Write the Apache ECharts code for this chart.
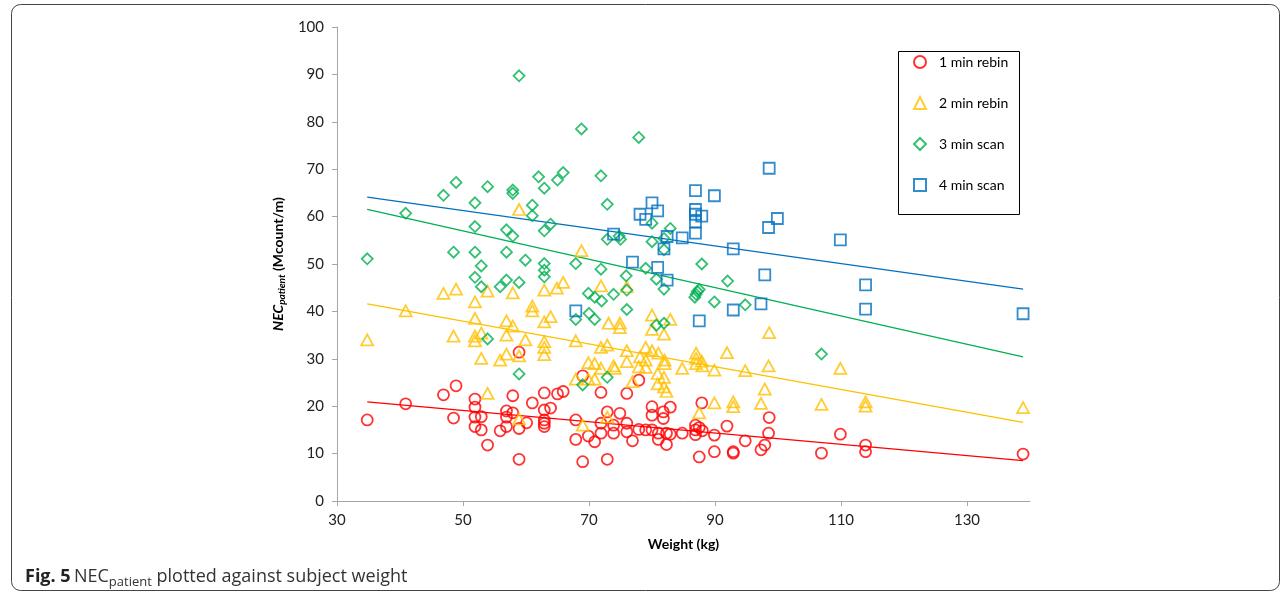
<!DOCTYPE html>
<html>
<head>
<meta charset="utf-8">
<title>NEC patient vs weight</title>
<script src="https://cdn.jsdelivr.net/npm/echarts@6/dist/echarts.min.js"></script>
<style>
  html, body { margin: 0; padding: 0; background: #fff; }
  #chart { width: 1287px; height: 602px; }
</style>
</head>
<body>
<div id="chart"></div>
<script>
// [weight (kg), NEC patient (Mcount/m)]
const rebin1 = [
  [34.8,17.1],[40.9,20.5],[46.9,22.4],[48.5,17.5],[48.9,24.3],[51.9,21.5],[51.9,19.8],[51.9,17.7],
  [51.9,15.7],[52.9,17.8],[52.9,15.0],[53.9,11.8],[55.9,14.8],[56.9,19.0],[56.9,17.7],[56.9,15.7],
  [57.9,22.2],[57.9,18.6],[58.9,31.4],[58.9,15.3],[58.9,8.8],[60.1,16.5],[61.0,20.7],
  [62.9,22.8],[65.0,22.6],[65.9,23.1],[71.9,22.9],[76.0,22.7],[69.0,26.4],[77.9,25.5],[87.9,20.7],
  [62.9,19.2],[63.9,19.6],[62.9,17.1],[62.9,16.4],[62.9,15.7],[67.9,17.1],[72.9,18.8],[74.9,18.5],
  [80.0,19.9],[81.8,18.8],[82.9,19.8],[80.0,18.1],[81.8,17.4],[67.9,13.0],[69.9,13.7],[70.9,12.5],
  [71.9,14.3],[73.9,14.3],[76.0,14.6],[76.9,12.7],[71.9,16.4],[73.9,16.0],[76.0,16.4],[77.9,15.1],
  [79.0,15.0],[80.0,15.0],[81.0,14.3],[81.0,13.0],[82.3,14.3],[82.3,11.9],[82.9,14.1],[84.8,14.3],
  [86.9,16.0],[86.9,15.0],[86.9,14.0],[87.5,15.5],[88.0,14.8],[89.9,13.9],[91.9,15.8],[94.8,12.7],
  [92.9,10.4],[92.9,10.1],[89.9,10.4],[87.5,9.3],[69.0,8.3],[72.9,8.8],
  [98.6,17.6],[98.5,14.3],[109.9,14.1],[97.9,11.8],[97.3,10.8],[106.9,10.1],[113.9,11.8],[113.9,10.4],
  [138.9,9.9]
];
const rebin2 = [
  [46.9,43.8],[48.9,44.7],[53.9,44.3],[57.9,43.9],[51.9,42.0],[61.0,41.1],[61.0,40.1],[40.9,40.1],
  [51.9,38.5],[56.9,38.0],[57.9,36.9],[34.8,34.0],[48.5,34.8],[51.9,34.8],[52.9,35.4],[51.9,33.8],
  [56.9,35.0],[59.9,34.0],[52.9,30.1],[55.9,29.7],[56.9,31.0],[58.9,30.6],[53.9,22.7],[58.9,17.3],
  [58.9,61.5],[68.8,52.8],[65.9,46.1],[64.9,44.9],[62.9,44.5],[71.9,45.4],[76.0,45.2],
  [63.9,38.9],[62.9,37.8],[73.1,37.5],[74.9,37.5],[74.9,36.6],[80.0,39.2],[82.9,38.3],[80.0,36.2],
  [81.9,35.2],[67.9,33.8],[62.9,33.6],[62.9,32.4],[62.9,30.9],[71.9,32.4],[72.9,32.9],[76.0,31.7],
  [79.0,32.4],[80.0,31.7],[81.0,31.2],[78.1,30.4],[79.0,29.7],[82.0,29.7],[82.0,29.0],[87.0,31.2],
  [87.0,30.1],[87.0,29.0],[87.9,29.5],[88.0,28.5],[91.9,31.3],[89.9,27.6],[84.8,28.0],[94.8,27.5],
  [69.9,29.2],[70.9,29.0],[71.9,28.0],[73.9,28.5],[74.1,28.0],[76.0,29.4],[77.9,28.3],[79.0,28.2],
  [67.9,25.7],[69.9,25.7],[70.9,25.7],[76.9,25.2],[80.9,26.9],[80.9,24.7],[81.9,26.1],[81.9,24.1],
  [82.3,23.1],[89.9,20.7],[92.9,20.9],[92.9,19.9],[87.5,18.6],[69.0,16.0],[72.9,17.7],
  [98.6,35.5],[98.5,28.5],[109.9,28.0],[97.9,23.6],[97.3,20.6],[106.9,20.4],[113.9,20.9],[113.9,20.0],
  [138.9,19.7]
];
const scan3 = [
  [58.9,89.7],[48.9,67.2],[46.9,64.5],[53.9,66.3],[57.9,65.6],[57.9,64.9],[51.9,62.9],[40.9,60.7],
  [61.0,62.4],[61.0,60.2],[51.9,57.9],[56.9,57.2],[57.9,55.9],[34.8,51.1],[48.5,52.5],[51.9,52.5],
  [56.9,52.5],[59.9,50.8],[52.9,49.6],[51.9,47.2],[52.9,45.2],[55.9,45.2],[56.9,46.6],[58.9,46.1],
  [53.9,34.2],[58.9,26.8],
  [68.8,78.5],[77.9,76.7],[62.0,68.4],[62.9,66.0],[65.0,67.7],[65.9,69.3],[71.9,68.6],[72.9,62.6],
  [63.9,58.4],[62.9,57.0],[72.9,55.2],[74.8,55.9],[75.0,55.2],[80.0,58.6],[82.9,57.5],[80.0,54.7],
  [81.9,55.4],[81.9,53.0],[67.9,50.1],[71.9,48.9],[79.0,49.1],[87.9,50.0],[75.9,47.5],[80.7,46.8],
  [92.0,46.4],[62.9,50.1],[62.9,48.7],[62.9,47.3],[69.9,43.8],[73.9,43.6],[81.9,44.7],[76.0,44.5],
  [86.8,43.0],[87.0,43.6],[87.2,44.2],[87.5,44.6],[89.9,42.0],
  [70.9,43.0],[72.0,42.2],[76.0,40.4],[70.0,39.6],[70.9,38.3],[67.9,38.3],[94.8,41.4],[80.7,37.1],
  [81.9,37.5],[72.9,26.1],[69.0,24.5],[106.9,31.0]
];
const scan4 = [
  [86.9,65.5],[89.9,64.4],[80.0,62.9],[80.9,61.2],[78.1,60.5],[79.0,59.4],[86.9,61.5],[86.9,60.5],
  [86.9,58.9],[87.9,60.1],[86.9,56.5],[73.9,56.3],[82.4,55.8],[84.8,55.5],[81.9,53.2],[92.9,53.2],
  [76.9,50.4],[80.9,49.3],[82.4,46.6],[67.9,40.1],[87.5,38.0],[92.9,40.3],
  [98.6,70.2],[99.9,59.6],[98.5,57.7],[109.9,55.1],[97.9,47.7],[113.9,45.6],[113.9,40.5],[138.9,39.5],
  [97.3,41.6]
];

// trend line end points
const trend1 = [[34.8,20.9],[138.9,8.5]];
const trend2 = [[34.8,41.6],[138.9,16.6]];
const trend3 = [[34.8,61.5],[138.9,30.4]];
const trend4 = [[34.8,64.1],[138.9,44.7]];

const xTicks = [30, 50, 70, 90, 110, 130];
const seriesNames = ['1 min rebin', '2 min rebin', '3 min scan', '4 min scan'];
const colors = ['#ff0000', '#ffc000', '#00b050', '#0070c0'];

const axisGray = '#a6a6a6';
const labelFont = 'Lato, "Liberation Sans", sans-serif';
const captionFont = '"Open Sans", sans-serif';

const chart = echarts.init(document.getElementById('chart'));

const scatter = (name, data, symbol, size, color) => ({
  name: name,
  type: 'scatter',
  data: data,
  symbol: symbol,
  symbolSize: size,
  z: 3,
  itemStyle: { color: 'rgba(255,255,255,0)', borderColor: color, borderWidth: 1.8 },
  emphasis: { disabled: true }
});

const trend = (data, color) => ({
  type: 'line',
  data: data,
  symbol: 'none',
  silent: true,
  z: 2,
  lineStyle: { color: color, width: 1.3 }
});

const option = {
  animation: false,
  grid: { left: 337, right: 257, top: 27, bottom: 101 },
  xAxis: {
    type: 'value',
    min: 30,
    max: 140,
    name: 'Weight (kg)',
    nameLocation: 'middle',
    nameGap: 36,
    nameTextStyle: { fontFamily: labelFont, fontWeight: 'bold', fontSize: 14, color: '#000' },
    axisLine: { lineStyle: { color: axisGray, width: 1 } },
    axisTick: { show: true, length: 5, customValues: xTicks, lineStyle: { color: axisGray } },
    axisLabel: { customValues: xTicks, fontFamily: labelFont, fontSize: 15, color: '#222', margin: 12 },
    splitLine: { show: false }
  },
  yAxis: {
    type: 'value',
    min: 0,
    max: 100,
    interval: 10,
    name: '{a|NEC}{b|patient}{c| (Mcount/m)}',
    nameLocation: 'middle',
    nameGap: 34,
    nameTextStyle: {
      rich: {
        a: { fontFamily: labelFont, fontWeight: 'bold', fontStyle: 'italic', fontSize: 14, color: '#000', lineHeight: 18 },
        b: { fontFamily: labelFont, fontWeight: 'bold', fontStyle: 'italic', fontSize: 10, color: '#000', lineHeight: 18, verticalAlign: 'bottom' },
        c: { fontFamily: labelFont, fontWeight: 'bold', fontSize: 14, color: '#000', lineHeight: 18 }
      }
    },
    axisLine: { show: true, lineStyle: { color: axisGray, width: 1 } },
    axisTick: { show: true, length: 5, lineStyle: { color: axisGray } },
    axisLabel: { fontFamily: labelFont, fontSize: 15, color: '#222', margin: 13 },
    splitLine: { show: false }
  },
  legend: {
    orient: 'vertical',
    left: 913,
    top: 55,
    padding: 0,
    itemGap: 27,
    itemWidth: 12,
    itemHeight: 12,
    data: seriesNames,
    textStyle: { fontFamily: labelFont, fontSize: 14, color: '#000', padding: [0, 0, 0, 8] },
    selectedMode: false
  },
  graphic: [
    {
      type: 'rect',
      shape: { x: 898.5, y: 51.5, width: 121, height: 163 },
      style: { fill: 'none', stroke: '#000', lineWidth: 1 },
      z: 1
    },
    {
      type: 'rect',
      shape: { x: 11.5, y: 4.5, width: 1268, height: 586, r: 9 },
      style: { fill: 'none', stroke: '#444', lineWidth: 1 },
      silent: true
    },
    {
      type: 'text',
      left: 25,
      top: 568,
      style: {
        text: '{f|Fig. 5} {n|NEC}{s|patient}{n| plotted against subject weight}',
        rich: {
          f: { fontFamily: captionFont, fontWeight: 'bold', fontSize: 18, fill: '#222', lineHeight: 24 },
          n: { fontFamily: captionFont, fontSize: 18, fill: '#333', lineHeight: 24 },
          s: { fontFamily: captionFont, fontSize: 13, fill: '#333', lineHeight: 24, verticalAlign: 'bottom' }
        }
      }
    }
  ],
  series: [
    trend(trend1, colors[0]),
    trend(trend2, colors[1]),
    trend(trend3, colors[2]),
    trend(trend4, colors[3]),
    scatter(seriesNames[0], rebin1, 'circle', 11, colors[0]),
    scatter(seriesNames[1], rebin2, 'triangle', [12, 11], colors[1]),
    scatter(seriesNames[2], scan3, 'diamond', 11, colors[2]),
    scatter(seriesNames[3], scan4, 'rect', 11, colors[3])
  ]
};

chart.setOption(option);
window.addEventListener('resize', () => chart.resize());
</script>
</body>
</html>
